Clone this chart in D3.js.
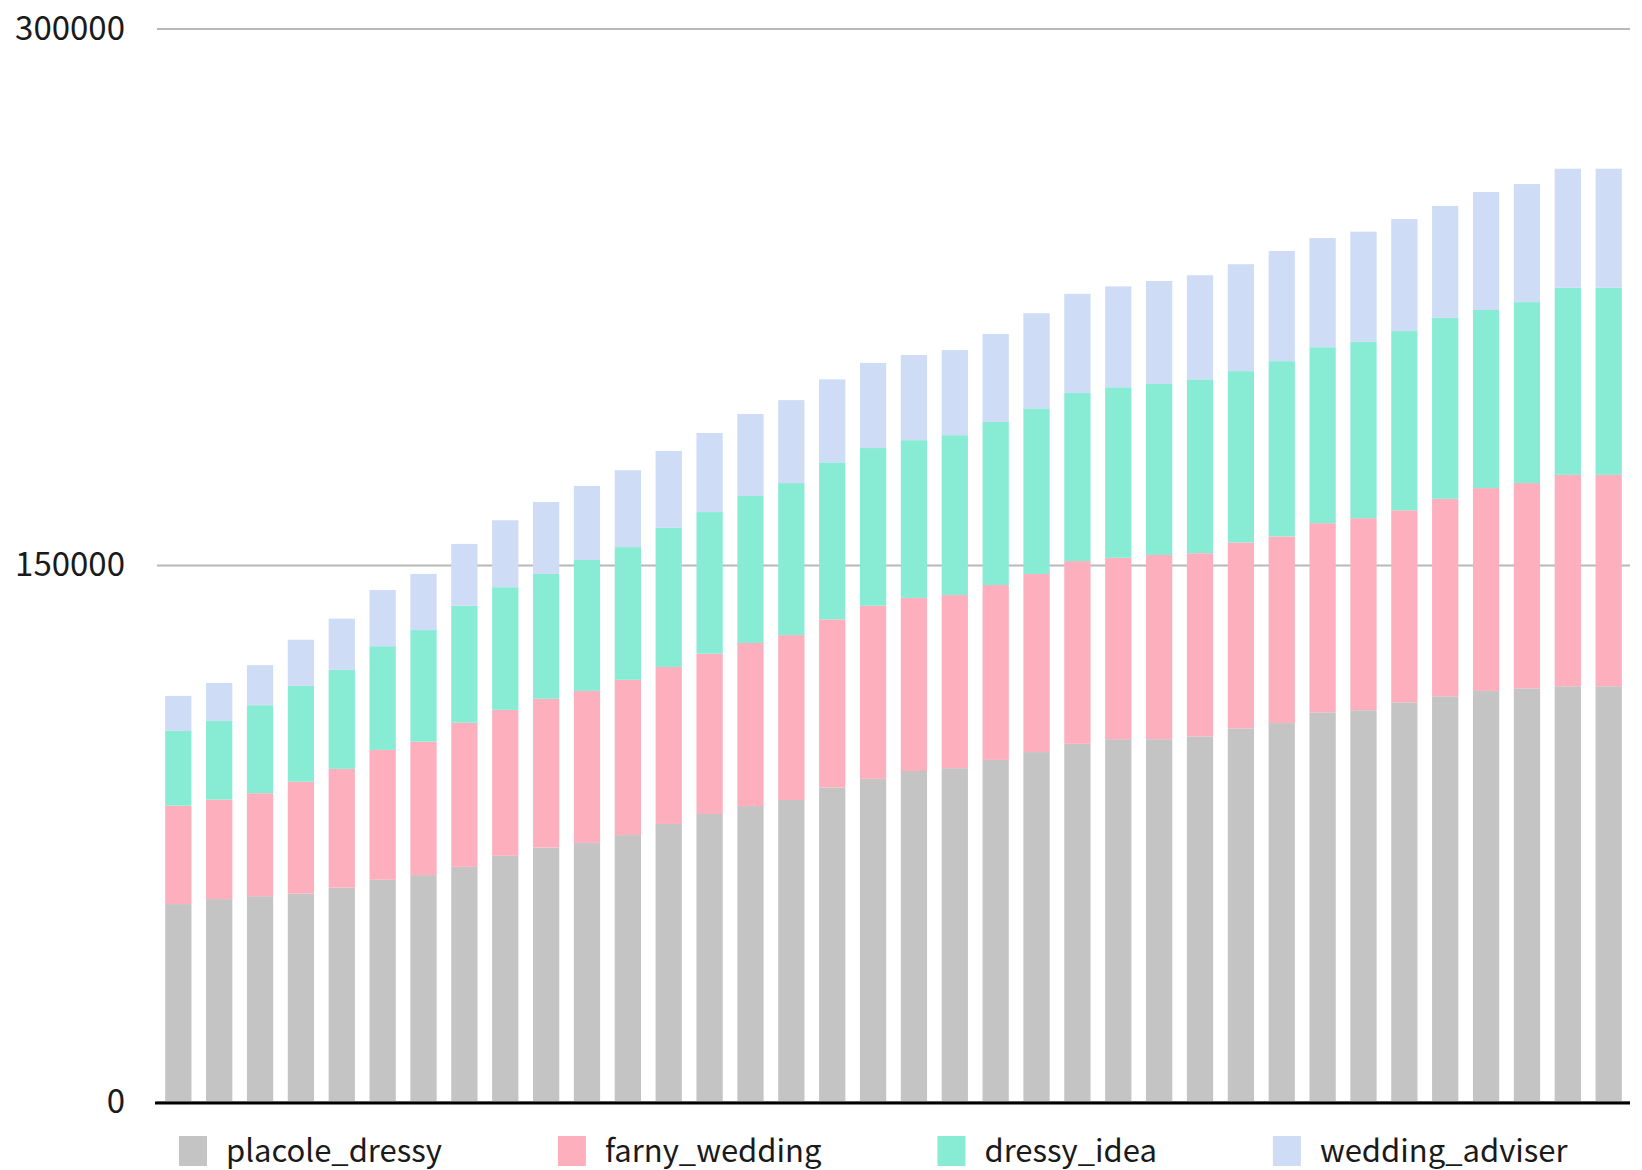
<!DOCTYPE html>
<html>
<head>
<meta charset="utf-8">
<script src="https://cdn.jsdelivr.net/npm/d3@7"></script>
<style>
	html, body { margin: 0; padding: 0; background: #fff; }
	svg { display: block; font-family: 'Noto Sans CJK JP', 'Noto Sans', sans-serif; }
</style>
</head>
<body>
<svg id="canvas"></svg>
<script>
const periods = [
	'1', '2', '3', '4', '5', '6', '7', '8', '9', '10', '11', '12',
	'13', '14', '15', '16', '17', '18', '19', '20', '21', '22', '23', '24',
	'25', '26', '27', '28', '29', '30', '31', '32', '33', '34', '35', '36'
];

const seriesNames = ['placole_dressy', 'farny_wedding', 'dressy_idea', 'wedding_adviser'];

const placoleDressy = [
	55200, 56600, 57400, 58100, 59800, 62000, 63300, 65600, 68700, 71000, 72300, 74500,
	77600, 80400, 82600, 84300, 87800, 90200, 92400, 93200, 95500, 97700, 100000, 101300,
	101300, 102100, 104300, 105800, 108800, 109400, 111600, 113300, 114800, 115500, 116100, 116100
];

const farnyWedding = [
	27500, 27800, 28800, 31300, 33200, 36300, 37300, 40300, 40800, 41600, 42500, 43400,
	43900, 44800, 45600, 46100, 47000, 48400, 48400, 48400, 48900, 49800, 51100, 50700,
	51500, 51200, 52000, 52200, 52900, 53700, 53700, 55200, 56700, 57400, 59100, 59100
];

const dressyIdea = [
	20900, 22000, 24600, 26800, 27700, 29000, 31200, 32700, 34300, 34900, 36600, 37100,
	38900, 39600, 41100, 42500, 43900, 44100, 44100, 44700, 45600, 46300, 47000, 47700,
	47800, 48600, 47900, 49000, 49200, 49300, 50100, 50600, 49800, 50600, 52300, 52300
];

const weddingAdviser = [
	9800, 10600, 11200, 12900, 14300, 15700, 15700, 17300, 18700, 20100, 20700, 21500,
	21500, 22100, 22900, 23200, 23200, 23800, 23800, 23800, 24600, 26600, 27700, 28200,
	28800, 29100, 29900, 30800, 30500, 30800, 31300, 31300, 33000, 33000, 33300, 33300
];

const yTicks = [0, 150000, 300000];

const colors = ['#c4c4c4', '#fdafbd', '#88ecd5', '#cedcf6'];

const width = 1642;
const height = 1170;

const plotLeft = 157;
const plotRight = 1630;
const plotTop = 28.5;
const plotBottom = 1101.5;

const canvas = d3.select('#canvas').attr('width', width).attr('height', height);

// rows for d3.stack, built from the series arrays
const seriesValues = [placoleDressy, farnyWedding, dressyIdea, weddingAdviser];
const rows = periods.map((p, i) => {
	let row = { period: p };
	seriesNames.forEach((name, s) => (row[name] = seriesValues[s][i]));
	return row;
});

const stacked = d3.stack().keys(seriesNames)(rows);

const x = d3
	.scaleBand()
	.domain(periods)
	.range([plotLeft, plotRight])
	.paddingInner(0.357)
	.paddingOuter(0.2);

const y = d3.scaleLinear().domain([0, 300000]).range([plotBottom, plotTop]);

const color = d3.scaleOrdinal().domain(seriesNames).range(colors);

// gridlines + tick labels
const yAxis = canvas
	.append('g')
	.attr('transform', `translate(${plotLeft},0)`)
	.call(
		d3
			.axisLeft(y)
			.tickValues(yTicks)
			.tickFormat(d3.format('d'))
			.tickSize(-(plotRight - plotLeft))
			.tickPadding(32)
	);

yAxis.select('.domain').remove();
yAxis.selectAll('line').attr('stroke', '#b8b8b8').attr('stroke-width', 2);
yAxis
	.selectAll('text')
	.attr('font-size', '33px')
	.attr('font-family', "'Noto Sans CJK JP', 'Noto Sans', sans-serif")
	.attr('fill', '#1a1a1a');

// bars
canvas
	.append('g')
	.selectAll('g')
	.data(stacked)
	.enter()
	.append('g')
	.attr('fill', (d) => color(d.key))
	.selectAll('rect')
	.data((d) => d)
	.enter()
	.append('rect')
	.attr('x', (d) => x(d.data.period))
	.attr('y', (d) => y(d[1]))
	.attr('width', x.bandwidth())
	.attr('height', (d) => y(d[0]) - y(d[1]));

// baseline
canvas
	.append('line')
	.attr('x1', plotLeft - 2)
	.attr('x2', plotRight)
	.attr('y1', y(0) + 1.5)
	.attr('y2', y(0) + 1.5)
	.attr('stroke', '#000')
	.attr('stroke-width', 3);

// legend
const legend = canvas.append('g').attr('transform', 'translate(179,1136)');
let legendX = 0;

seriesNames.forEach((name) => {
	let item = legend.append('g').attr('transform', `translate(${legendX},0)`);

	item.append('rect').attr('width', 28).attr('height', 30).attr('fill', color(name));

	let label = item
		.append('text')
		.attr('x', 47)
		.attr('y', 25.5)
		.attr('font-size', '31px')
		.attr('fill', '#1a1a1a')
		.text(name);

	legendX += 47 + label.node().getComputedTextLength() + 116;
});
</script>
</body>
</html>
